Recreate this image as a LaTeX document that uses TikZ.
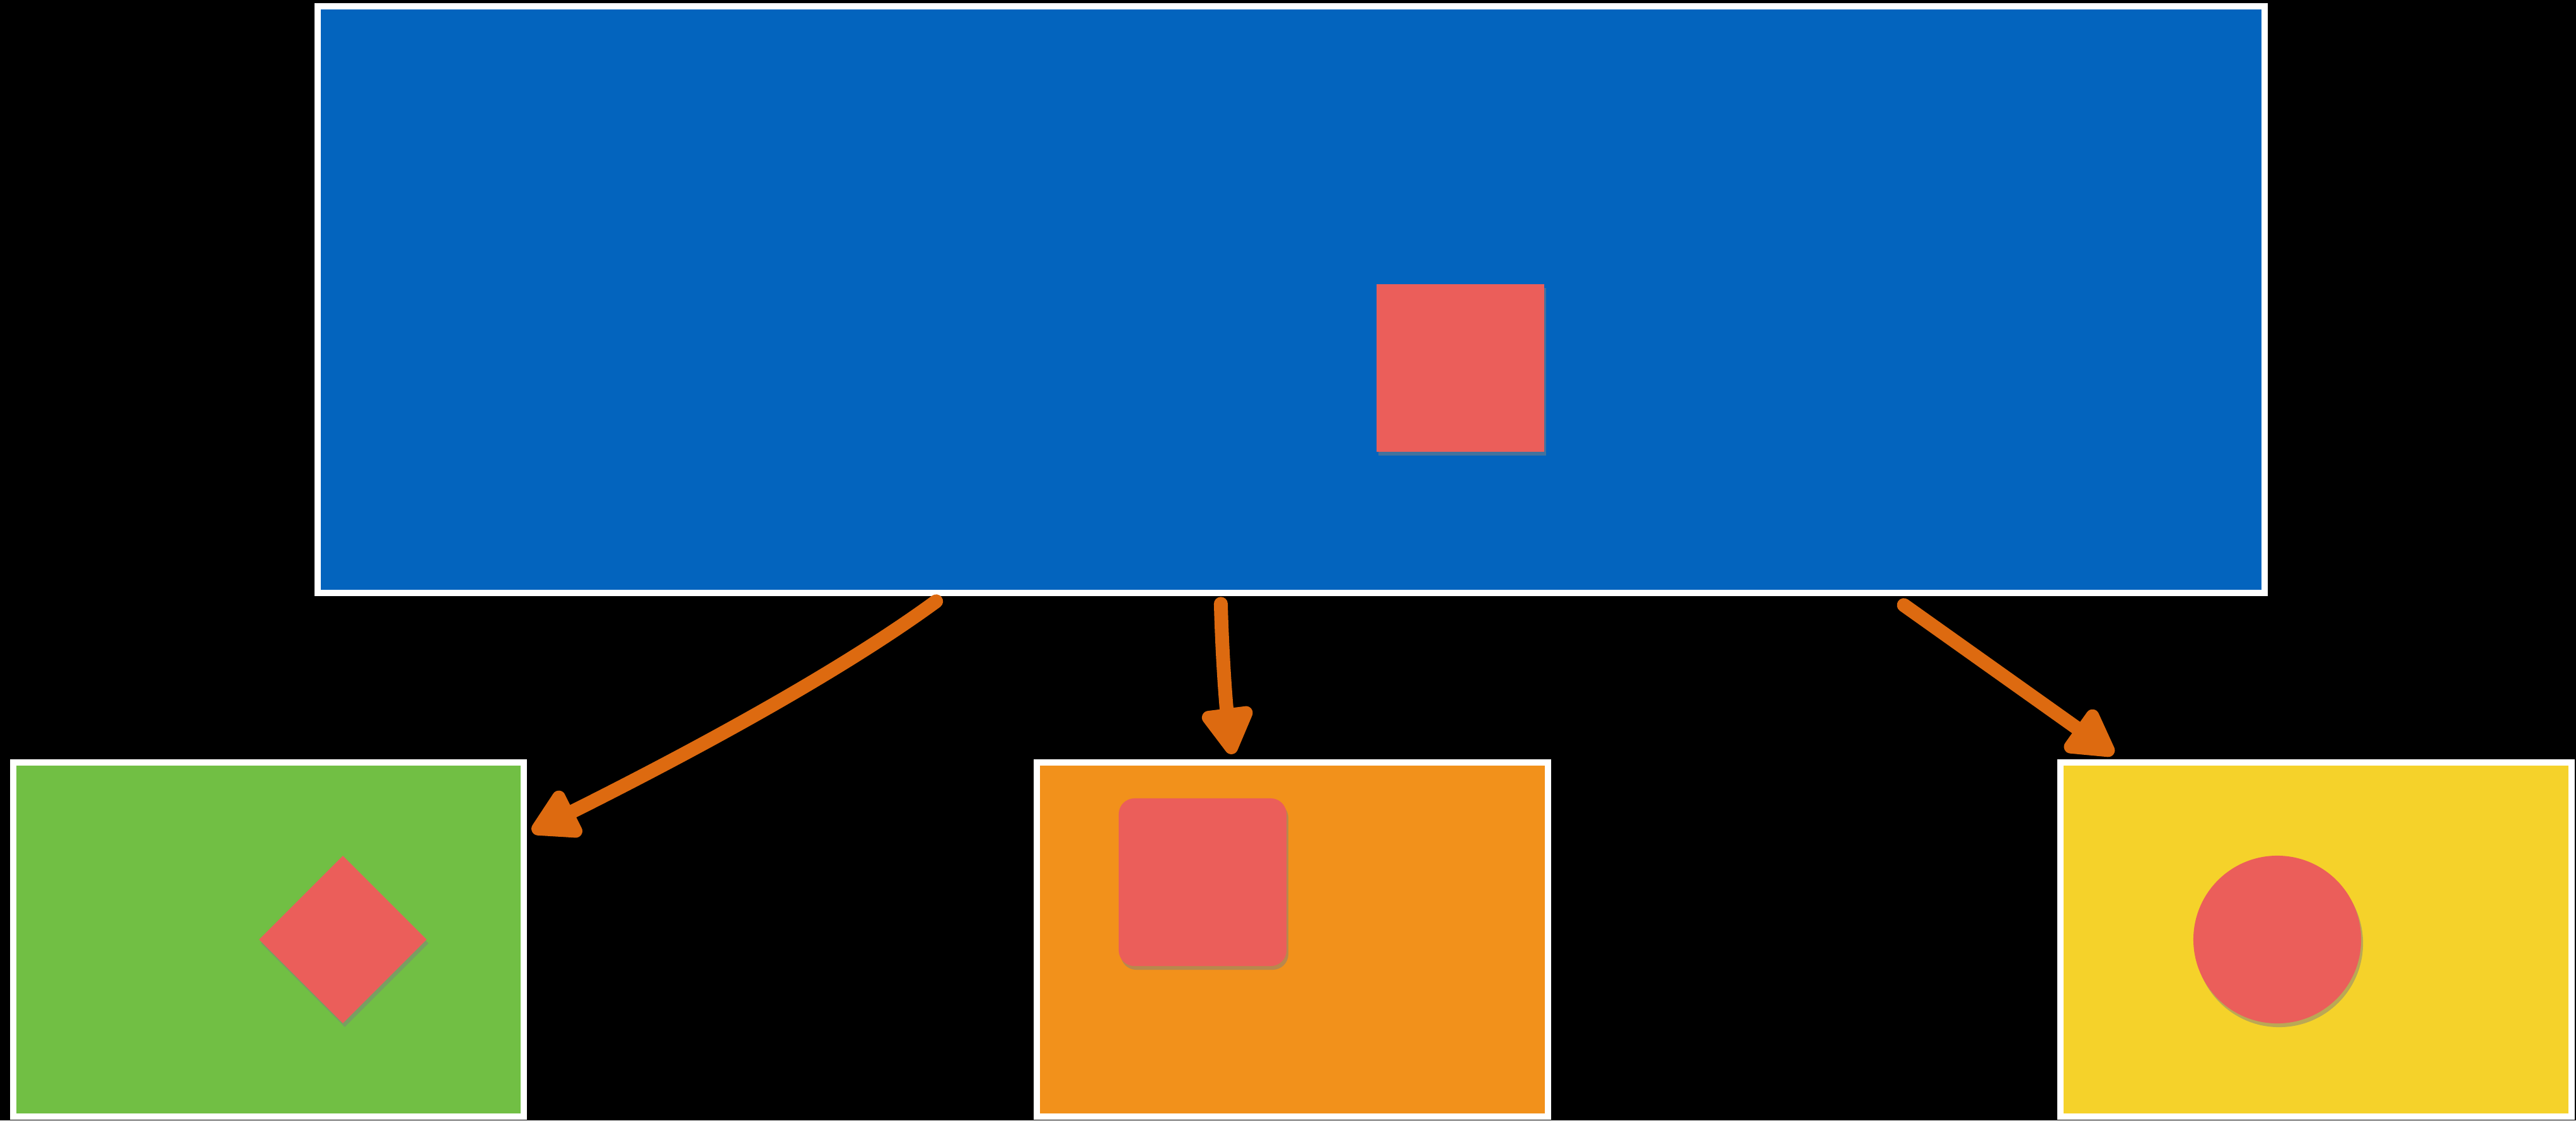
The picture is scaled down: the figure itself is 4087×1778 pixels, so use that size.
\documentclass[tikz,border=0pt]{standalone}
\usepackage{tikz}
\usetikzlibrary{arrows.meta,shapes.geometric,shadows}

\begin{document}
\begin{tikzpicture}[x=0.01cm,y=-0.01cm,
  riquadro/.style={draw=white, line width=0.1cm, inner sep=0pt,
    minimum width=8.1cm, minimum height=5.62cm},
  forma/.style={fill=colRosso, inner sep=0pt, minimum width=2.66cm, minimum height=2.66cm,
    drop shadow={shadow xshift=0.03cm, shadow yshift=-0.06cm, opacity=0.5}},
  freccia/.style={draw=colFreccia, line width=0.22cm, line cap=round,
    -{Triangle[length=0.85cm,width=0.9cm,round]}}]

% Colori
\definecolor{colBlu}{HTML}{0364BE}
\definecolor{colVerde}{HTML}{71BF44}
\definecolor{colArancio}{HTML}{F2911B}
\definecolor{colGiallo}{HTML}{F5D22A}
\definecolor{colRosso}{HTML}{EB5E5A}
\definecolor{colFreccia}{HTML}{DD6A10}

% Sfondo
\fill[black] (0,0) rectangle (4087,1778);
\useasboundingbox (0,0) rectangle (4087,1778);

% Riquadro principale
\node[riquadro, fill=colBlu, minimum width=30.87cm, minimum height=9.31cm] (main) at (2048.5,475.5) {};
\node[forma] (quadrato) at (2317,584) {};

% Riquadri inferiori
\node[riquadro, fill=colVerde] (verde) at (426,1491) {};
\node[riquadro, fill=colArancio] (arancio) at (2050.5,1491) {};
\node[riquadro, fill=colGiallo] (giallo) at (3674.5,1491) {};

% Forme interne
\node[forma, shape=diamond, aspect=1] (rombo) at (544,1491) {};
\node[forma, rounded corners=0.25cm] (tondo) at (1908,1400) {};
\node[forma, shape=circle, minimum size=2.66cm] (cerchio) at (3613,1491) {};

% Punti di attacco delle frecce
\coordinate (s1) at ([xshift=-5.63cm,yshift=-0.08cm]main.south);
\coordinate (s2) at ([xshift=-1.115cm,yshift=-0.12cm]main.south);
\coordinate (s3) at ([xshift=9.715cm,yshift=-0.14cm]main.south);
\coordinate (t1) at ([xshift=0.08cm,yshift=-1.15cm]verde.north east);
\coordinate (t2) at ([xshift=-0.955cm,yshift=0.08cm]arancio.north);
\coordinate (t3) at ([xshift=0.89cm,yshift=0.08cm]giallo.north west);

% Frecce
\draw[freccia] (s1) .. controls +(-150,110) and +(260,-130) .. (t1);
\draw[freccia] (s2) .. controls +(2,80) and +(-10,-80) .. (t2);
\draw[freccia] (s3) -- (t3);

\end{tikzpicture}
\end{document}
